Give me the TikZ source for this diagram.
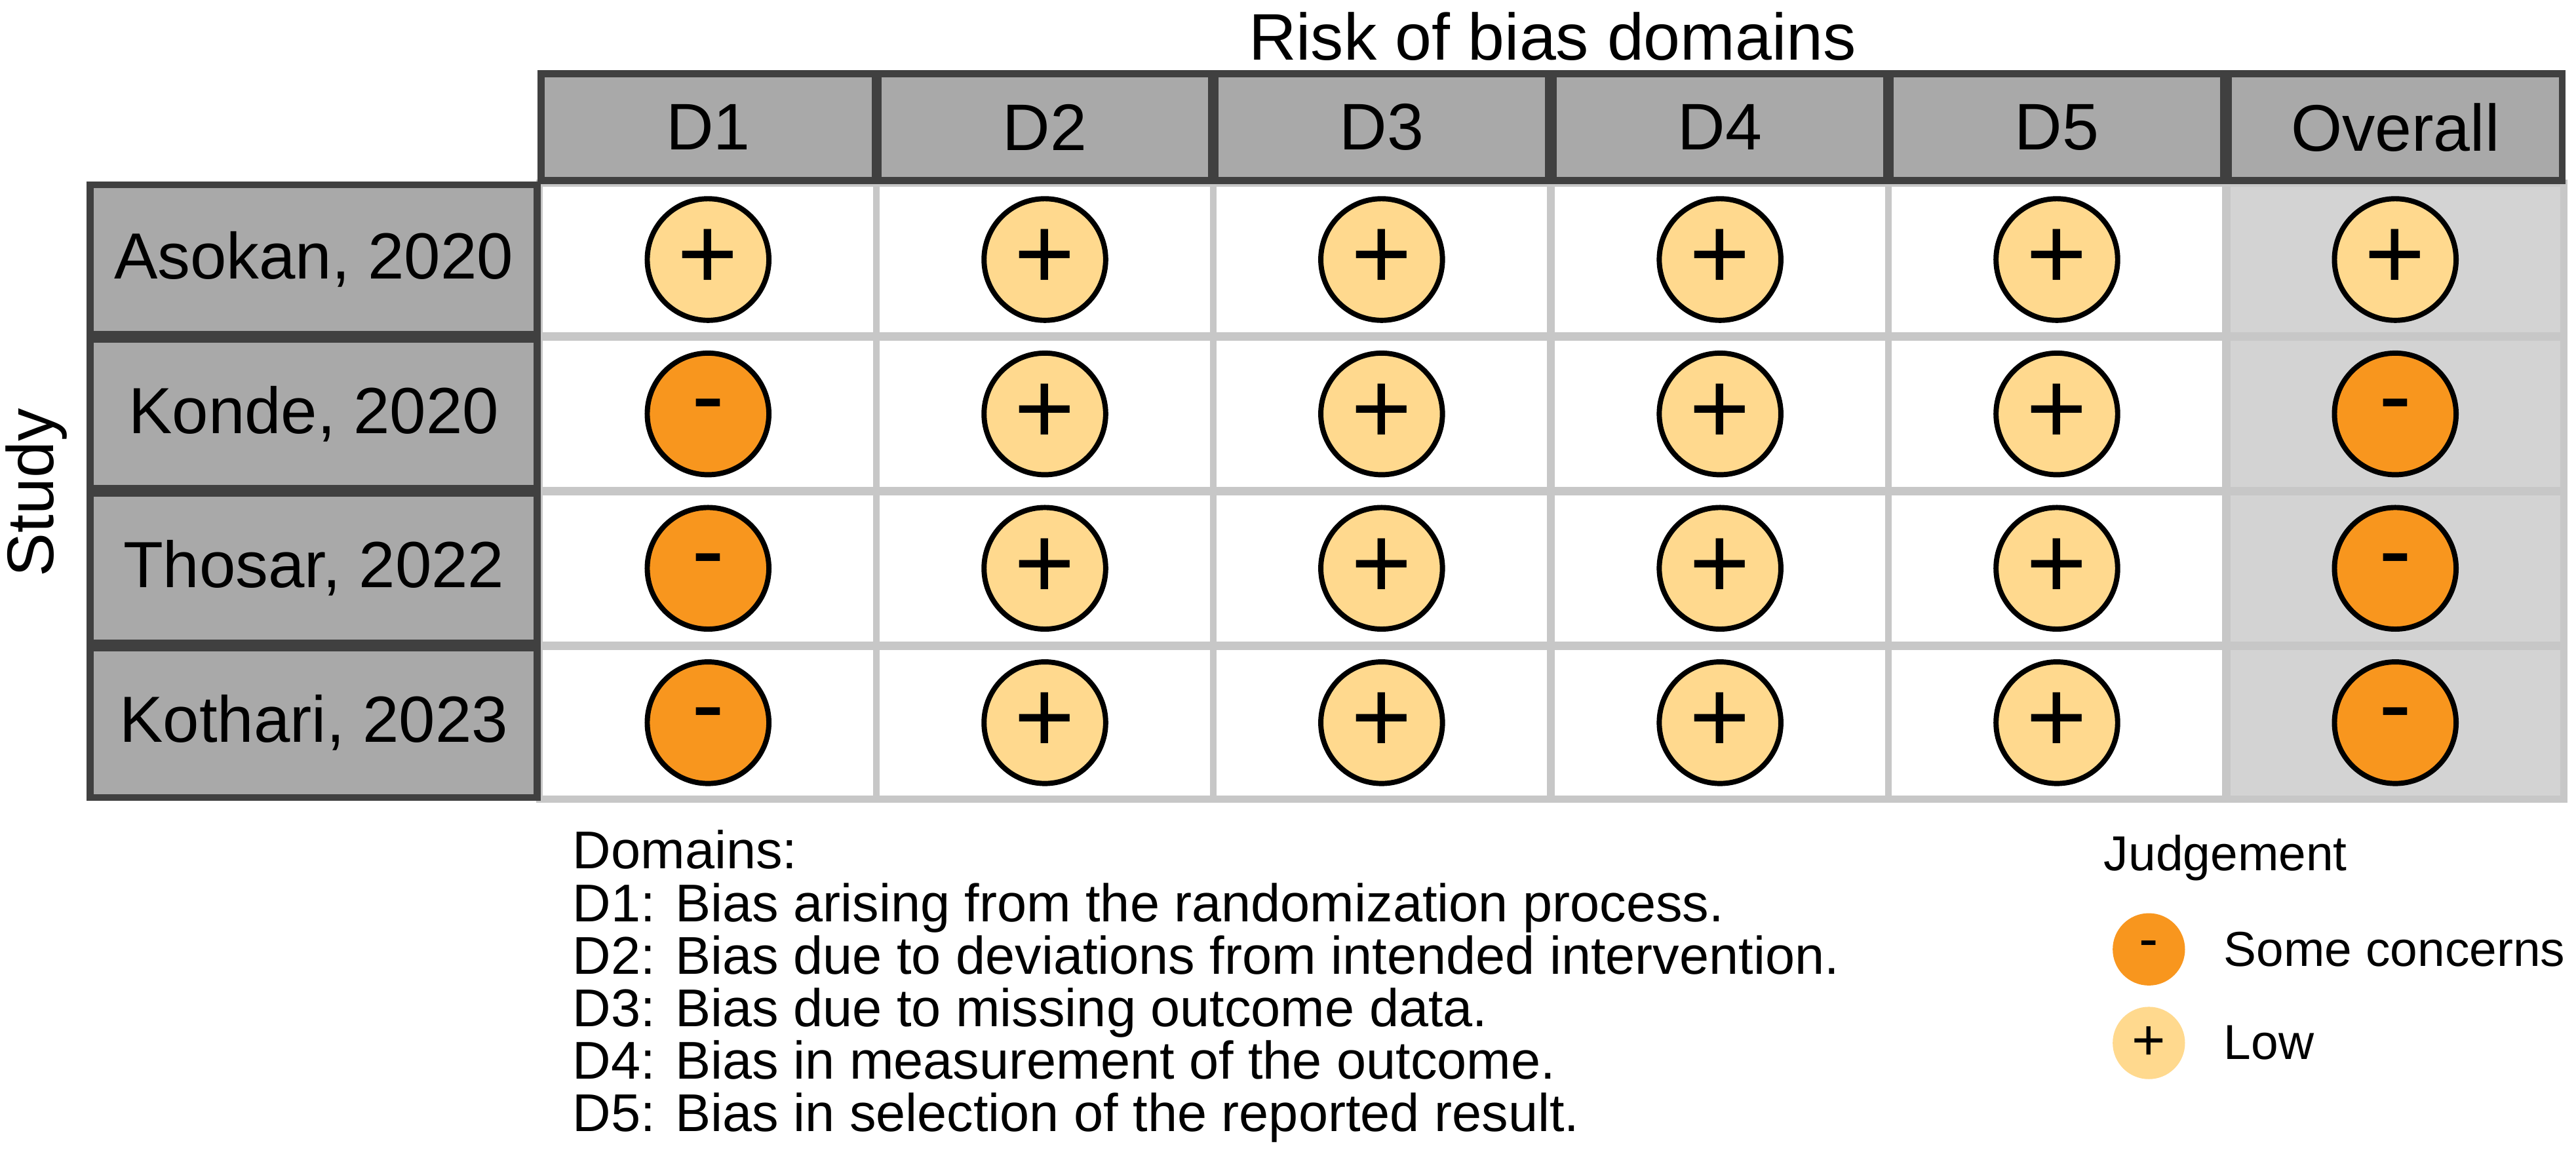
\documentclass[tikz,border=0pt]{standalone}
\usepackage{fontspec}
\setmainfont{Liberation Sans}
\usetikzlibrary{positioning}
\definecolor{hdrgray}{HTML}{A9A9A9}
\definecolor{ovgray}{HTML}{D3D3D3}
\definecolor{lowcol}{HTML}{FFD98E}
\definecolor{somecol}{HTML}{F8961E}
\tikzset{
  hdr/.style={draw=black!75, line width=1.2pt, fill=hdrgray, minimum width=2.03cm, minimum height=0.65cm, inner sep=0pt},
  cell/.style={draw=black!22, line width=1.2pt, fill=white, minimum width=2.05cm, minimum height=0.93cm, inner sep=0pt},
  low/.style={circle, draw=black, line width=0.9pt, fill=lowcol, minimum size=0.74cm, inner sep=0pt, font=\fontsize{18}{18}\selectfont},
  some/.style={circle, draw=black, line width=0.9pt, fill=somecol, minimum size=0.74cm, inner sep=0pt, font=\fontsize{17}{17}\selectfont},
  key/.style={circle, minimum size=0.44cm, inner sep=0pt, font=\fontsize{10}{10}\selectfont},
  legtxt/.style={anchor=base west, inner sep=0pt, font=\fontsize{9.2}{9.2}\selectfont}
}
\begin{document}
\begin{tikzpicture}[x=0.01cm, y=-0.01cm]
\useasboundingbox (0,0) rectangle (1568,714);

\node (title) at (945,22) {\fontsize{11.4}{11.4}\selectfont Risk of bias domains};

% grid cells
\foreach \r/\y in {1/158,2/252,3/346,4/440}{
  \foreach \c/\x in {1/431,2/636,3/841,4/1047,5/1252}
    \node (c\r\c) [cell] at (\x,\y) {};
  \node (c\r6) [cell, fill=ovgray] at (1458,\y) {};
}

% header
\foreach \c/\x/\t in {1/431/D1,2/636/D2,3/841/D3,4/1047/D4,5/1252/D5,6/1458/Overall}
  \node (h\c) [hdr] at (\x,77.5) {\fontsize{11.4}{11.4}\selectfont \t};

% studies
\foreach \r/\y/\t in {1/158/{Asokan, 2020},2/252/{Konde, 2020},3/346/{Thosar, 2022},4/440/{Kothari, 2023}}
  \node (s\r) [hdr, minimum width=2.72cm, minimum height=0.91cm] at (191,\y) {\fontsize{11.3}{11.3}\selectfont \t};

\node (study) [rotate=90] at (22,300) {\fontsize{11.4}{11.4}\selectfont Study};

% judgements
\foreach \r in {1,...,4}{
  \foreach \c in {2,...,5}
    \node (j\r\c) [low] at (c\r\c) {+};
}
\node (j11) [low] at (c11) {+};
\node (j16) [low] at (c16) {+};
\foreach \r in {2,3,4}{
  \node (j\r1) [some] at (c\r1) {-};
  \node (j\r6) [some] at (c\r6) {-};
}

% domain legend
\node (dom) [legtxt] at (348,529) {Domains:};
\node (d1) [legtxt] at (348,561) {D1: Bias arising from the randomization process.};
\node (d2) [legtxt] at (348,593) {D2: Bias due to deviations from intended intervention.};
\node (d3) [legtxt] at (348,625) {D3: Bias due to missing outcome data.};
\node (d4) [legtxt] at (348,657) {D4: Bias in measurement of the outcome.};
\node (d5) [legtxt] at (348,689) {D5: Bias in selection of the reported result.};

% judgement key
\node (jk) [legtxt, font=\fontsize{8.5}{8.5}\selectfont] at (1280,530) {Judgement};
\node (ksome) [key, fill=somecol] at (1308,578) {-};
\node (klow) [key, fill=lowcol] at (1308,635) {+};
\node [anchor=west, inner sep=0pt, font=\fontsize{8.5}{8.5}\selectfont, right=0.45cm of ksome.center] {Some concerns};
\node [anchor=west, inner sep=0pt, font=\fontsize{8.5}{8.5}\selectfont, right=0.45cm of klow.center] {Low};
\end{tikzpicture}
\end{document}
